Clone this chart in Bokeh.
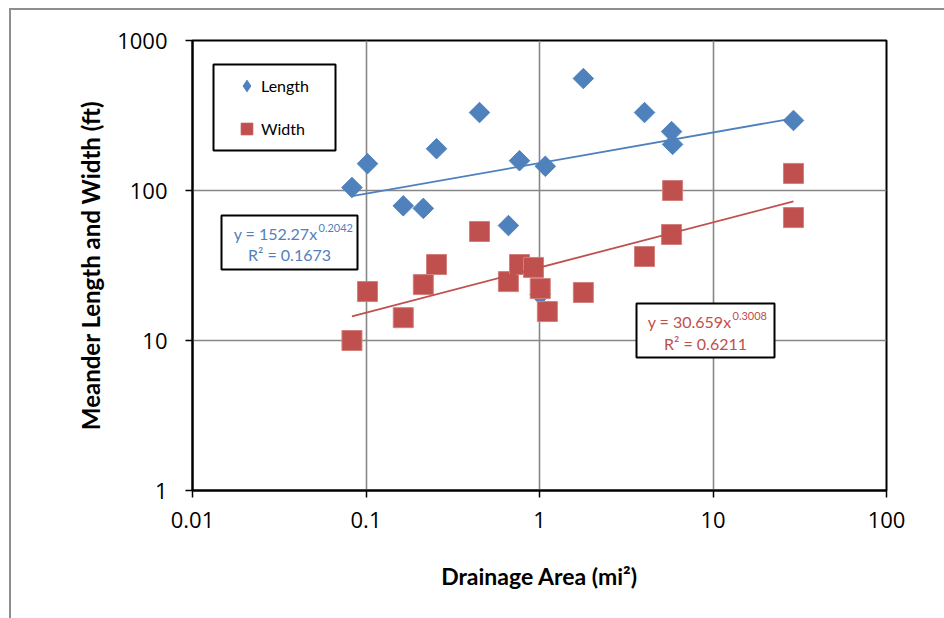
import numpy as np
from bokeh.plotting import figure
from bokeh.models import (Range1d, FixedTicker, CustomJSTickFormatter, BoxAnnotation,
                          Label, Legend, LegendItem, InlineStyleSheet)
from bokeh.embed import file_html
from bokeh.resources import INLINE

# ---------------- data ----------------
length_area = [0.083, 0.102, 0.164, 0.214, 0.255, 0.451, 0.662, 0.767, 1.01, 1.08,
               1.79, 4.03, 5.77, 5.85, 29.1]
length_ft = [104.7, 151, 79, 76, 190, 331, 58.4, 158, 20.3, 145,
             558, 331, 247, 203, 293]

width_area = [0.083, 0.102, 0.164, 0.214, 0.255, 0.451, 0.662, 0.767, 0.923, 1.01,
              1.11, 1.79, 4.03, 5.77, 5.85, 29.1, 29.1]
width_ft = [10, 21.2, 14.2, 23.6, 32.1, 53.3, 24.7, 32.1, 30.7, 22.2,
            15.6, 20.9, 36.3, 50.9, 100, 130, 66]

# power-law trendlines shown on the chart: y = a * x^b, R^2
length_fit = {"a": 152.27, "b": 0.2042, "r2": 0.1673}
width_fit = {"a": 30.659, "b": 0.3008, "r2": 0.6211}

x_ticks = [0.01, 0.1, 1, 10, 100]
y_ticks = [1, 10, 100, 1000]

BLUE = "#4F81BD"
RED = "#C0504D"
FONT = "Lato"
TICK_FONT = "Open Sans"
GRID = "#878787"

p = figure(width=944, height=618, x_axis_type="log", y_axis_type="log",
           x_range=Range1d(0.01, 100), y_range=Range1d(1, 1000),
           output_backend="svg", toolbar_location=None,
           min_border_left=192, min_border_right=58,
           min_border_top=40, min_border_bottom=128)
p.background_fill_color = "white"
p.border_fill_alpha = 0
p.outline_line_color = "black"
p.outline_line_width = 2
# grey outer chart border (cropped in the reference), drawn as page background
p.stylesheets = [InlineStyleSheet(css=(
    ":host { background-color: white;"
    " background-image: linear-gradient(#8E8E8E, #8E8E8E), linear-gradient(#8E8E8E, #8E8E8E);"
    " background-repeat: no-repeat;"
    " background-size: 2px 100%, 100% 2px;"
    " background-position: 9px 8px, 9px 8px; }"))]

xt = FixedTicker(ticks=x_ticks, minor_ticks=[])
yt = FixedTicker(ticks=y_ticks, minor_ticks=[])
p.xaxis.ticker = xt
p.yaxis.ticker = yt
p.xgrid.ticker = xt
p.ygrid.ticker = yt
p.xaxis.formatter = CustomJSTickFormatter(code="return tick.toString()")
p.yaxis.formatter = CustomJSTickFormatter(code="return tick.toString()")

p.grid.grid_line_color = GRID
p.grid.grid_line_width = 1.6

for ax in (p.xaxis, p.yaxis):
    ax.axis_line_color = "black"
    ax.axis_line_width = 2
    ax.major_tick_line_color = "black"
    ax.major_tick_line_width = 1.5
    ax.major_tick_out = 7
    ax.major_tick_in = 0
    ax.minor_tick_line_color = None
    ax.major_label_text_font = TICK_FONT
    ax.major_label_text_font_size = "22px"
    ax.major_label_text_color = "black"
    ax.axis_label_text_font = FONT
    ax.axis_label_text_font_style = "bold"
    ax.axis_label_text_color = "black"

p.xaxis.axis_label = "Drainage Area (mi²)"
p.yaxis.axis_label = "Meander Length and Width (ft)"
p.xaxis.axis_label_text_font_size = "23px"
p.yaxis.axis_label_text_font_size = "24px"
p.xaxis.major_label_standoff = 14
p.xaxis.axis_label_standoff = 31
p.yaxis.major_label_standoff = 18
p.yaxis.axis_label_standoff = 9

# ---------------- data marks ----------------
p.scatter(length_area, length_ft, marker="square", angle=np.pi / 4, size=14.5,
          fill_color=BLUE, line_color=BLUE)
p.scatter(width_area, width_ft, marker="square", size=20,
          fill_color=RED, line_color="#D27F7D", line_width=1)

# trendlines from the fitted equations, over the data's x extent
lx = np.array([min(length_area), max(length_area)])
p.line(lx, length_fit["a"] * lx ** length_fit["b"], line_color=BLUE, line_width=1.8)
wx = np.array([min(width_area), max(width_area)])
p.line(wx, width_fit["a"] * wx ** width_fit["b"], line_color=RED, line_width=1.8)

# ---------------- legend ----------------
leg_len = p.scatter(x=[np.nan], y=[np.nan], marker="diamond", fill_color=BLUE, line_color=BLUE)
leg_wid = p.scatter(x=[np.nan], y=[np.nan], marker="square", fill_color=RED, line_color=RED)

p.add_layout(BoxAnnotation(left=21, right=143, top=426, bottom=340,
                           left_units="screen", right_units="screen",
                           top_units="screen", bottom_units="screen",
                           fill_color="white", fill_alpha=1,
                           line_color="black", line_alpha=1, line_width=2))
legend = Legend(items=[LegendItem(label="Length", renderers=[leg_len]),
                       LegendItem(label="Width", renderers=[leg_wid])],
                location=(40, 347), glyph_width=29, glyph_height=29, spacing=14,
                padding=0, margin=0, label_standoff=0,
                label_text_font=FONT, label_text_font_size="16px",
                label_text_color="black",
                border_line_alpha=0, background_fill_alpha=0)
p.add_layout(legend)


# ---------------- equation boxes ----------------
def eq_box(left, right, top, bottom, fit, color, xjoin, y1, y2, xc):
    p.add_layout(BoxAnnotation(left=left, right=right, top=top, bottom=bottom,
                               left_units="screen", right_units="screen",
                               top_units="screen", bottom_units="screen",
                               fill_color="white", fill_alpha=1,
                               line_color="black", line_alpha=1, line_width=2))
    common = dict(x_units="screen", y_units="screen", text_color=color,
                  text_font=FONT, text_baseline="middle")
    p.add_layout(Label(x=xjoin, y=y1, text=f"y = {fit['a']}x", text_align="right",
                       text_font_size="16px", **common))
    p.add_layout(Label(x=xjoin + 1, y=y1 + 6, text=f"{fit['b']}", text_align="left",
                       text_font_size="11px", **common))
    p.add_layout(Label(x=xc, y=y2, text=f"R² = {fit['r2']}", text_align="center",
                       text_font_size="16px", **common))


eq_box(29, 165, 275, 221, length_fit, BLUE, 125, 257, 236, 97)
eq_box(444, 582, 187, 133, width_fit, RED, 539, 169, 147, 513)

open("out.html", "w").write(file_html(p, INLINE))
